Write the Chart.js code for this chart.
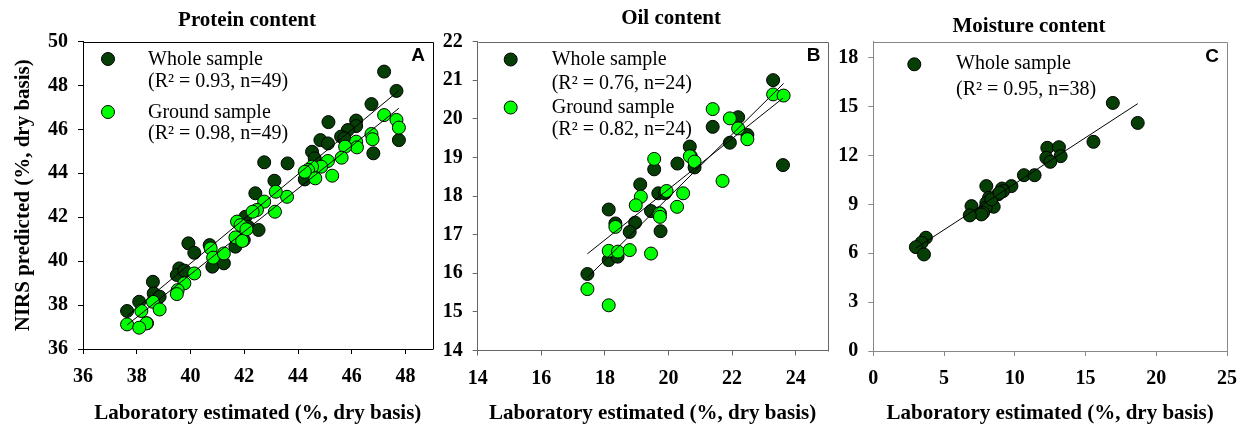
<!DOCTYPE html>
<html>
<head>
<meta charset="utf-8">
<script src="https://cdn.jsdelivr.net/npm/chart.js@4"></script>
<style>
  body { margin: 0; background: #fff; width: 1248px; height: 430px; position: relative; overflow: hidden; }
  canvas { position: absolute; top: 0; }
</style>
</head>
<body>
<canvas id="chartA" width="440" height="430" style="left:0px"></canvas>
<canvas id="chartB" width="395" height="430" style="left:440px"></canvas>
<canvas id="chartC" width="413" height="430" style="left:835px"></canvas>
<script>
// values (lab estimate = x, NIRS predicted = y)
const proteinWholeLab  = [47.20, 47.66, 46.73, 45.13, 46.16, 46.16, 45.85, 45.60, 45.72, 44.83, 45.11, 47.75, 46.80, 44.52, 44.62, 42.74, 43.61, 44.25, 43.12, 42.41, 42.04, 42.14, 42.53, 41.67, 41.98, 39.92, 40.14, 40.71, 40.81, 41.24, 39.58, 39.49, 39.77, 38.60, 38.63, 38.85, 38.09, 37.64, 38.38];
const proteinWholeNirs = [48.63, 47.75, 47.15, 46.33, 46.40, 46.15, 45.97, 45.67, 45.59, 45.51, 45.36, 45.51, 44.91, 44.98, 44.68, 44.50, 44.45, 43.72, 43.66, 43.09, 42.02, 41.57, 41.42, 40.66, 40.96, 40.81, 40.38, 40.73, 39.75, 39.90, 39.67, 39.37, 39.57, 39.06, 38.53, 38.38, 38.15, 37.73, 37.17];
const proteinGroundLab  = [47.20, 47.66, 47.75, 46.73, 46.77, 46.16, 46.19, 45.75, 45.62, 45.11, 44.86, 45.27, 44.52, 44.37, 44.64, 44.25, 43.59, 43.17, 43.14, 42.74, 42.47, 42.31, 41.73, 41.86, 42.08, 41.67, 41.92, 40.75, 40.84, 41.24, 40.14, 39.77, 39.52, 39.49, 38.60, 38.85, 38.17, 38.36, 37.64, 38.09];
const proteinGroundNirs = [46.65, 46.43, 46.08, 45.79, 45.55, 45.44, 45.18, 45.21, 44.71, 44.56, 44.30, 43.89, 44.30, 44.15, 43.77, 44.07, 42.93, 43.16, 42.25, 42.71, 42.33, 42.25, 41.80, 41.64, 41.45, 41.08, 40.92, 40.58, 40.16, 40.35, 39.44, 38.99, 38.68, 38.50, 38.15, 37.80, 37.73, 37.17, 37.12, 36.97];

const oilWholeLab  = [23.29, 23.60, 22.19, 22.48, 21.93, 21.39, 20.67, 20.82, 20.28, 19.55, 19.11, 19.68, 19.45, 18.95, 18.78, 19.75, 18.12, 18.33, 18.12, 18.40, 17.45, 19.89, 20.70, 19.73];
const oilWholeNirs = [21.00, 18.80, 20.04, 19.58, 19.38, 19.79, 19.28, 18.74, 18.84, 18.69, 18.30, 18.07, 17.61, 17.31, 17.07, 17.09, 17.65, 17.29, 16.34, 16.43, 15.98, 18.07, 19.03, 17.55];
const oilGroundLab  = [23.29, 23.62, 21.39, 21.93, 22.19, 22.48, 20.67, 20.82, 19.55, 21.70, 19.94, 20.46, 19.13, 18.97, 20.27, 19.71, 18.33, 18.12, 18.41, 18.78, 19.45, 17.45, 18.12, 19.73];
const oilGroundNirs = [20.63, 20.60, 20.25, 20.01, 19.75, 19.47, 19.03, 18.89, 18.96, 18.39, 18.13, 18.07, 17.98, 17.76, 17.72, 17.55, 17.20, 16.58, 16.56, 16.60, 16.51, 15.59, 15.17, 17.46];

const moistWholeLab  = [16.93, 18.69, 15.56, 12.30, 13.12, 12.23, 13.24, 12.51, 10.65, 11.40, 9.76, 9.10, 9.17, 8.82, 7.99, 8.18, 7.99, 8.51, 7.95, 7.76, 7.64, 6.94, 6.82, 3.72, 3.41, 3.01, 3.58, 8.35, 8.93];
const moistWholeNirs = [15.24, 14.01, 12.85, 12.48, 12.52, 11.87, 11.97, 11.62, 10.80, 10.80, 10.13, 9.98, 9.82, 9.62, 10.13, 9.41, 9.10, 8.86, 8.80, 8.49, 8.39, 8.90, 8.33, 6.96, 6.65, 6.38, 5.93, 9.31, 9.72];

const darkGreen = '#063f06';
const lightGreen = '#00ff00';
const serif = '"Liberation Serif", "Times New Roman", serif';
Chart.defaults.font.family = serif;
Chart.defaults.color = '#000';

function toPoints(xs, ys) {
  return xs.map((x, i) => ({ x: x, y: ys[i] }));
}

// least squares line between the smallest and largest x
function fitLine(xs, ys) {
  const n = xs.length;
  const mx = xs.reduce((a, b) => a + b, 0) / n;
  const my = ys.reduce((a, b) => a + b, 0) / n;
  let sxy = 0, sxx = 0;
  for (let i = 0; i < n; i++) {
    sxy += (xs[i] - mx) * (ys[i] - my);
    sxx += (xs[i] - mx) * (xs[i] - mx);
  }
  const b = sxy / sxx, a = my - b * mx;
  const lo = Math.min(...xs), hi = Math.max(...xs);
  return [{ x: lo, y: a + b * lo }, { x: hi, y: a + b * hi }];
}

function dots(label, xs, ys, color, order) {
  return { label: label, data: toPoints(xs, ys), backgroundColor: color, borderColor: '#000',
           borderWidth: 1, pointRadius: 6.5, pointHoverRadius: 6.5, order: order };
}
function line(xs, ys) {
  return { data: fitLine(xs, ys), showLine: true, borderColor: '#000', borderWidth: 1,
           pointRadius: 0, pointHoverRadius: 0, order: 0 };
}

// titles, panel letter, box border and the in-plot legend
const panelDecor = {
  id: 'panelDecor',
  afterDraw(chart, args, o) {
    const { ctx, chartArea: ca } = chart;
    ctx.save();
    ctx.strokeStyle = o.axisColor;
    ctx.lineWidth = 1;
    ctx.beginPath();
    ctx.moveTo(Math.round(ca.left) + 0.5, Math.round(ca.top) + 0.5);
    ctx.lineTo(Math.round(ca.right) + 0.5, Math.round(ca.top) + 0.5);
    ctx.lineTo(Math.round(ca.right) + 0.5, Math.round(ca.bottom) + 0.5);
    ctx.stroke();

    ctx.fillStyle = '#000';
    ctx.textBaseline = 'middle';
    ctx.textAlign = 'center';
    ctx.font = 'bold 21px ' + serif;
    ctx.fillText(o.title, o.titleX, o.titleY);

    ctx.font = 'bold 19px "Liberation Sans", Arial, sans-serif';
    ctx.fillText(o.letter, ca.right - o.letterOff, ca.top + o.letterOff);

    ctx.textAlign = 'left';
    ctx.font = '20px ' + serif;
    o.legend.forEach(item => {
      ctx.beginPath();
      ctx.arc(ca.left + o.markerX, ca.top + item.markerY, 6.5, 0, Math.PI * 2);
      ctx.fillStyle = item.color;
      ctx.fill();
      ctx.strokeStyle = '#000';
      ctx.stroke();
      ctx.fillStyle = '#000';
      item.texts.forEach((t, i) => ctx.fillText(t, ca.left + o.textX, ca.top + item.textY[i]));
    });
    ctx.restore();
  }
};

function makeChart(id, datasets, s, decor) {
  return new Chart(document.getElementById(id), {
    type: 'scatter',
    data: { datasets: datasets },
    options: {
      responsive: false,
      animation: false,
      layout: { padding: { top: s.top, right: s.right, left: 0, bottom: 0 } },
      plugins: { legend: { display: false }, tooltip: { enabled: false }, panelDecor: decor },
      scales: {
        x: {
          type: 'linear', min: s.xMin, max: s.xMax,
          ticks: { stepSize: s.xStep, includeBounds: false, padding: 11, font: { size: 20, weight: 'bold' } },
          grid: { drawOnChartArea: false, tickLength: 5, color: decor.axisColor },
          border: { color: decor.axisColor },
          title: { display: true, text: 'Laboratory estimated (%, dry basis)', font: { size: 21, weight: 'bold' },
                   padding: { top: 0, bottom: 4 } },
          afterFit: sc => { sc.height = s.xHeight; }
        },
        y: {
          type: 'linear', min: s.yMin, max: s.yMax,
          ticks: { stepSize: s.yStep, includeBounds: false, padding: 10, font: { size: 20, weight: 'bold' } },
          grid: { drawOnChartArea: false, tickLength: 5, color: decor.axisColor },
          border: { color: decor.axisColor },
          title: { display: !!s.yTitle, text: s.yTitle || '', font: { size: 21, weight: 'bold' },
                   padding: { top: 11, bottom: 0 } },
          afterFit: sc => { sc.width = s.yWidth; }
        }
      }
    },
    plugins: [panelDecor]
  });
}

// A: protein
makeChart('chartA', [
  line(proteinWholeLab, proteinWholeNirs),
  line(proteinGroundLab, proteinGroundNirs),
  dots('Ground sample', proteinGroundLab, proteinGroundNirs, lightGreen, 1),
  dots('Whole sample', proteinWholeLab, proteinWholeNirs, darkGreen, 2)
], { top: 41.5, right: 5, xHeight: 81, yWidth: 83, xMin: 36, xMax: 49, xStep: 2, yMin: 36, yMax: 50, yStep: 2,
     yTitle: 'NIRS predicted (%, dry basis)' },
{ axisColor: '#000', title: 'Protein content', titleX: 247, titleY: 21, letter: 'A', letterOff: 14.5,
  markerX: 25, textX: 65,
  legend: [
    { color: darkGreen, markerY: 17.5, texts: ['Whole sample', '(R\u00b2 = 0.93, n=49)'], textY: [18.5, 40] },
    { color: lightGreen, markerY: 70.5, texts: ['Ground sample', '(R\u00b2 = 0.98, n=49)'], textY: [71, 92] }
  ] });

// B: oil
makeChart('chartB', [
  line(oilWholeLab, oilWholeNirs),
  line(oilGroundLab, oilGroundNirs),
  dots('Ground sample', oilGroundLab, oilGroundNirs, lightGreen, 1),
  dots('Whole sample', oilWholeLab, oilWholeNirs, darkGreen, 2)
], { top: 41.5, right: 4.3, xHeight: 79.5, yWidth: 37.7, xMin: 14, xMax: 25, xStep: 2, yMin: 14, yMax: 22, yStep: 1 },
{ axisColor: '#666', title: 'Oil content', titleX: 231, titleY: 18.5, letter: 'B', letterOff: 14,
  markerX: 33, textX: 74,
  legend: [
    { color: darkGreen, markerY: 18, texts: ['Whole sample', '(R\u00b2 = 0.76, n=24)'], textY: [18.5, 41.8] },
    { color: lightGreen, markerY: 66, texts: ['Ground sample', '(R\u00b2 = 0.82, n=24)'], textY: [66.2, 88.5] }
  ] });

// C: moisture
makeChart('chartC', [
  line(moistWholeLab, moistWholeNirs),
  dots('Whole sample', moistWholeLab, moistWholeNirs, darkGreen, 1)
], { top: 41.7, right: 20, xHeight: 79, yWidth: 38.3, xMin: 0, xMax: 25, xStep: 5, yMin: 0, yMax: 19, yStep: 3 },
{ axisColor: '#888', title: 'Moisture content', titleX: 194, titleY: 26.5, letter: 'C', letterOff: 15,
  markerX: 41, textX: 82.7,
  legend: [
    { color: darkGreen, markerY: 22.6, texts: ['Whole sample', '(R\u00b2 = 0.95, n=38)'], textY: [22.3, 48.3] }
  ] });
</script>
</body>
</html>
